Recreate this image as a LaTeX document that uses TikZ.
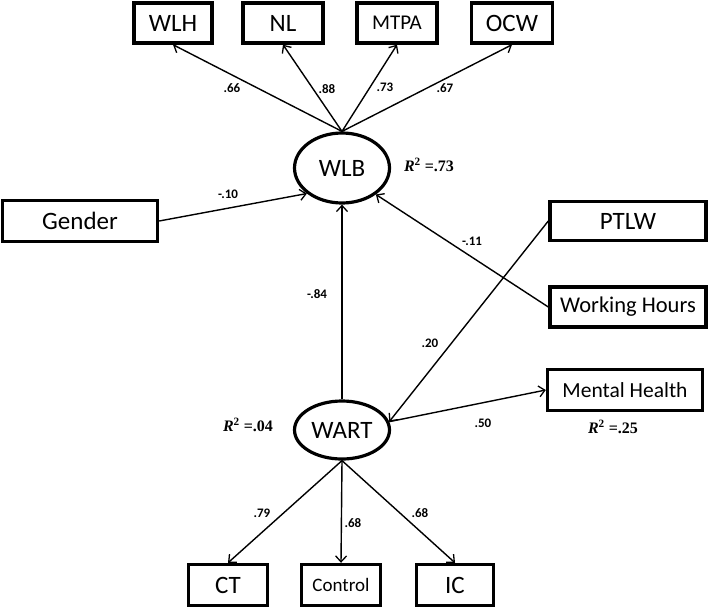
\documentclass[tikz,border=0pt]{standalone}
\usepackage{fontspec}
\setmainfont{Carlito}
\newfontfamily\rfont{Liberation Serif}
\usetikzlibrary{arrows.meta,shapes.geometric}
\tikzset{
  obs/.style={draw,line width=3.4pt,minimum height=40pt,inner sep=0pt,font=\fontsize{25}{27}\selectfont},
  lat/.style={draw,ellipse,line width=3.2pt,minimum width=95pt,inner sep=0pt,font=\fontsize{25}{27}\selectfont},
  path/.style={line width=1.4pt,-{Straight Barb[length=6pt,width=11pt,line width=1.3pt]}},
  coef/.style={font=\fontsize{13}{14}\selectfont\bfseries,inner sep=0pt},
  rsq/.style={font=\rfont\fontsize{16}{17}\selectfont\bfseries,inner sep=0pt}
}
\newcommand{\rsqtext}[1]{\textit{R}\textsuperscript{2} =#1}
\begin{document}
\begin{tikzpicture}[x=1pt,y=-1pt]
\useasboundingbox (0,0) rectangle (708,608);
% observed indicators
\node[obs,minimum width=78pt] (wlh) at (173,23) {WLH};
\node[obs,minimum width=80pt] (nl) at (283,23) {NL};
\node[obs,minimum width=80pt,font=\fontsize{21}{23}\selectfont] (mtpa) at (397,23) {MTPA};
\node[obs,minimum width=81pt] (ocw) at (512,23) {OCW};
\node[obs,minimum width=155pt,minimum height=41pt] (gender) at (80,221) {Gender};
\node[obs,minimum width=156pt,minimum height=39pt] (ptlw) at (628,221) {PTLW};
\node[obs,minimum width=156pt,font=\fontsize{22.5}{24}\selectfont] (wh) at (628,307) {Working Hours};
\node[obs,minimum width=155pt,minimum height=41pt,font=\fontsize{21.5}{23}\selectfont] (mh) at (625,390) {Mental Health};
\node[obs,minimum width=79pt,minimum height=41pt] (ct) at (228,585) {CT};
\node[obs,minimum width=79pt,minimum height=41pt,font=\fontsize{19}{21}\selectfont] (ctrl) at (341,585) {Control};
\node[obs,minimum width=77pt,minimum height=41pt] (ic) at (455,585) {IC};
% latent
\node[lat,minimum height=70pt] (wlb) at (342,168) {WLB};
\node[lat,minimum height=58pt] (wart) at (342,430) {WART};
% R squared
\node[rsq] (r1) at (429,165) {\rsqtext{.73}};
\node[rsq] (r2) at (248,425) {\rsqtext{.04}};
\node[rsq] (r3) at (613,427) {\rsqtext{.25}};
% paths
\draw[path] (wlb.north) -- (wlh.south);
\draw[path] (wlb.north) -- (nl.south);
\draw[path] (wlb.north) -- (mtpa.south);
\draw[path] (wlb.north) -- (ocw.south);
\draw[path] (gender.east) -- (wlb.-144);
\draw[path] (wh.west) -- (wlb.-38);
\draw[path] (wart.north) -- (wlb.south);
\draw[path] (ptlw.west) -- (wart.10);
\draw[path] (wart.10) -- (mh.west);
\draw[path] (wart.south) -- (ct.north);
\draw[path] (wart.south) -- (ctrl.north);
\draw[path] (wart.south) -- (ic.north);
% coefficients
\node[coef] (c1) at (232,88) {.66};
\node[coef] (c2) at (327,89) {.88};
\node[coef] (c3) at (385,87) {.73};
\node[coef] (c4) at (445,88) {.67};
\node[coef] (c5) at (228,194) {-.10};
\node[coef] (c6) at (472,241) {-.11};
\node[coef] (c7) at (317,294) {-.84};
\node[coef] (c8) at (430,343) {.20};
\node[coef] (c9) at (483,423) {.50};
\node[coef] (c10) at (262,513) {.79};
\node[coef] (c11) at (353,523) {.68};
\node[coef] (c12) at (420,513) {.68};
\end{tikzpicture}
\end{document}
